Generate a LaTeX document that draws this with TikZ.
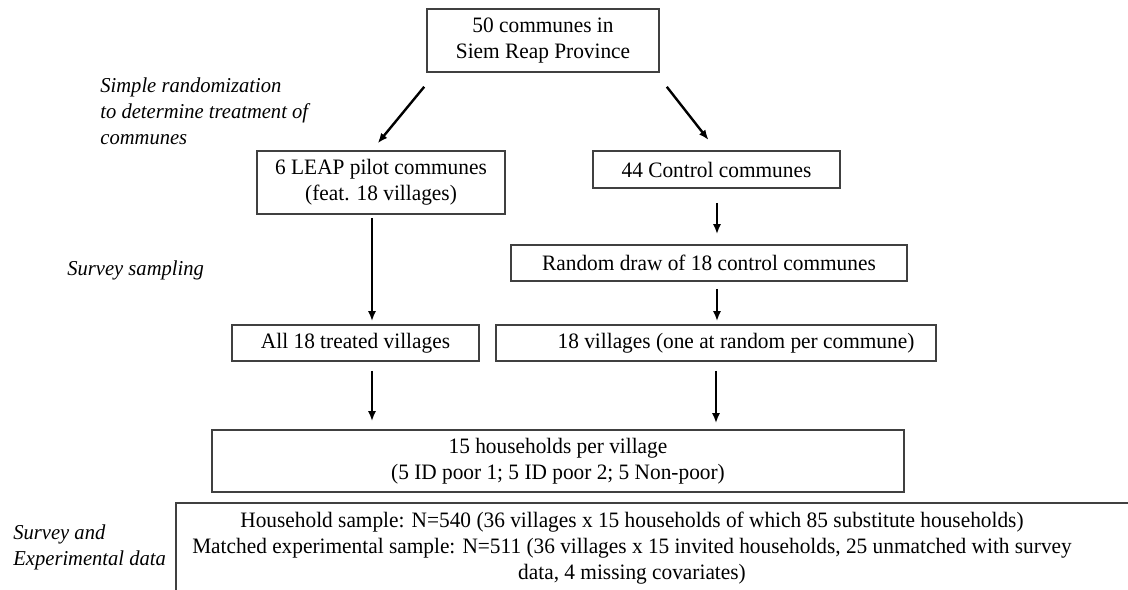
\documentclass[tikz,border=0pt]{standalone}
\usepackage{fontspec}
\setmainfont[FakeStretch=0.97]{Liberation Serif}
\usetikzlibrary{arrows.meta,calc,positioning}

\begin{document}
\begin{tikzpicture}[
      x=0.5pt, y=-0.5pt,
      stage/.style={draw=black!75, line width=0.8pt, align=center, inner sep=2pt, font=\fontsize{11}{13}\selectfont},
      note/.style={anchor=west, align=left, inner sep=0pt, font=\fontsize{10.6}{13}\selectfont\itshape},
      flow/.style={-{Latex[length=5pt,width=4pt]}, line width=1.2pt}
    ]
      \useasboundingbox (0,0) rectangle (1128,589);

      \node[stage, minimum width=116pt, minimum height=31.5pt] (province) at (543,40.5) {50 communes in\\Siem Reap Province};

      \node[stage, minimum width=124pt, minimum height=31.5pt] (pilot) at (381,182.5) {6 LEAP pilot communes\\(feat. 18 villages)};
      \node[stage, minimum width=123.5pt, minimum height=18.5pt] (control) at (716.5,169.5) {44 Control communes};
      \node[stage, minimum width=198pt, minimum height=18pt] (draw18) at (709,263) {Random draw of 18 control communes};

      \node[stage, minimum width=123.5pt, minimum height=18pt] (treated) at (355.5,343) {All 18 treated villages};
      \node[stage, minimum width=220pt, minimum height=18pt] (villages) at (716,343) {\hspace{20pt}18 villages (one at random per commune)};

      \node[stage, minimum width=346pt, minimum height=31pt] (households) at (558,461) {15 households per village\\(5 ID poor 1; 5 ID poor 2; 5 Non-poor)};

      % data box runs off the page at right and bottom
      \draw[draw=black!75, line width=0.8pt] (176,600) |- (1140,503);
      \node[align=center, inner sep=0pt, font=\fontsize{11}{13}\selectfont] (sample) at (632,548) {Household sample: N=540 (36 villages x 15 households of which 85 substitute households)\\Matched experimental sample: N=511 (36 villages x 15 invited households, 25 unmatched with survey\\data, 4 missing covariates)};

      \node[note] (randlabel) at (100,111) {Simple randomization\\to determine treatment of\\communes};
      \node[note] (samplinglabel) at (67,270) {Survey sampling};
      \node[note] (datalabel) at (13,547) {Survey and\\Experimental data};

      \draw[flow, shorten >=4.5pt] ($(province.south west)+(-2,14)$) -- ($(pilot.north)+(-9,0)$);
      \draw[flow, shorten >=6.5pt] ($(province.south east)+(7,14)$) -- (control.north);
      \draw[flow] ($(pilot.south)+(-9,3)$) coordinate (p1) -- ($(p1 |- treated.north)+(0,-3)$);
      \draw[flow] ($(control.south)+(0.5,14)$) coordinate (c1) -- ($(c1 |- draw18.north)+(0,-10)$);
      \draw[flow] ($(draw18.south)+(8,7)$) coordinate (d1) -- ($(d1 |- villages.north)+(0,-3)$);
      \draw[flow] ($(treated.south)+(16.5,9)$) coordinate (t1) -- ($(t1 |- households.north)+(0,-8)$);
      \draw[flow] ($(villages.south)+(0,9)$) coordinate (v1) -- ($(v1 |- households.north)+(0,-6)$);
    \end{tikzpicture}
\end{document}
